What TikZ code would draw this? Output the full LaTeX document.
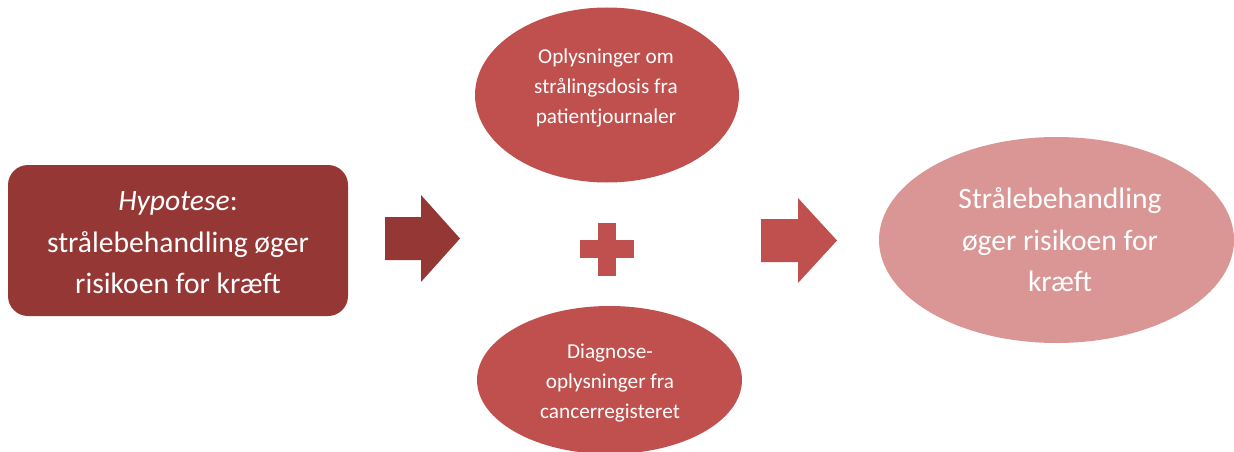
\documentclass[tikz,border=0pt]{standalone}
\usepackage{fontspec}
\setmainfont{Carlito}
\usetikzlibrary{shapes.geometric}
\definecolor{darkred}{HTML}{953735}
\definecolor{midred}{HTML}{C0504D}
\definecolor{palered}{HTML}{D99694}
\tikzset{
  bigtext/.style={text=white, align=center, font=\fontsize{29.6}{41.5}\selectfont},
  smalltext/.style={text=white, align=center, font=\fontsize{21.2}{30}\selectfont},
  hypbox/.style={fill=darkred, draw=none, rounded corners=20pt, minimum width=340pt, minimum height=151pt, inner sep=0pt},
  infoblob/.style={ellipse, fill=midred, draw=none, inner sep=0pt},
  resultblob/.style={ellipse, fill=palered, draw=none, inner sep=0pt},
}
\begin{document}
\begin{tikzpicture}[x=1pt, y=-1pt]
  \useasboundingbox (0,0) rectangle (1234,452);
  \clip (0,0) rectangle (1234,452);

  % hypothesis box
  \node[hypbox] (hyp) at (178,240.5) {};
  \node[bigtext] (hyptext) at (178,243) {\textit{Hypotese}:\\strålebehandling øger\\risikoen for kræft};

  % block arrow into the data sources
  \fill[darkred] (385,217) -- (421,217) -- (421,195) -- (460,238.5) -- (421,282) -- (421,260) -- (385,260) -- cycle;

  % data sources
  \node[infoblob, minimum width=264pt, minimum height=175pt] (dose) at (607,95) {};
  \node[smalltext] (dosetext) at (606,88) {Oplysninger om\\strålingsdosis fra\\patientjournaler};

  \fill[midred] (580,240) rectangle (634,258);
  \fill[midred] (598,223) rectangle (616,276);

  \node[infoblob, minimum width=265pt, minimum height=148pt] (diag) at (609.5,380) {};
  \node[smalltext] (diagtext) at (610,383) {Diagnose-\\oplysninger fra\\cancerregisteret};

  % block arrow into the conclusion
  \fill[midred] (761,219) -- (798,219) -- (798,198) -- (837,240.5) -- (798,283) -- (798,262) -- (761,262) -- cycle;

  % conclusion
  \node[resultblob, minimum width=355pt, minimum height=206pt] (result) at (1056.5,240) {};
  \node[bigtext] (resulttext) at (1060,240) {Strålebehandling\\øger risikoen for\\kræft};
\end{tikzpicture}
\end{document}
